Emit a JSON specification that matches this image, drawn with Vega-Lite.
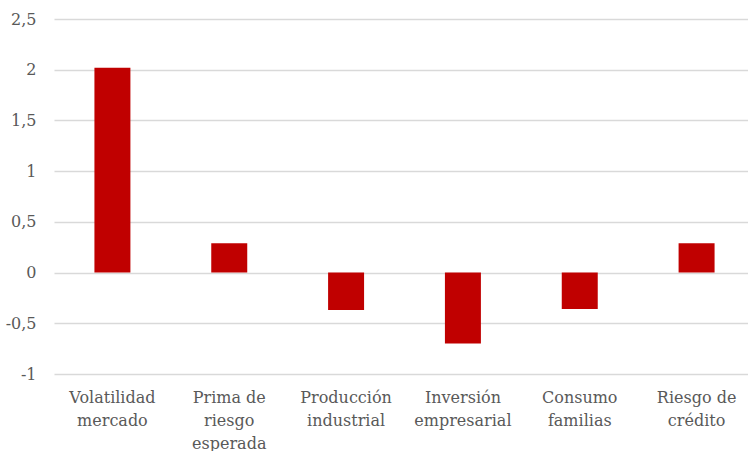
{
  "$schema": "https://vega.github.io/schema/vega-lite/v6.json",
  "width": 701,
  "height": 355,
  "autosize": {"type": "none"},
  "padding": {"left": 54, "top": 19, "right": 0, "bottom": 77},
  "background": "white",
  "data": {
    "values": [
      {"factor": "Volatilidad|mercado", "value": 2.02},
      {"factor": "Prima de|riesgo|esperada", "value": 0.29},
      {"factor": "Producción|industrial", "value": -0.37},
      {"factor": "Inversión|empresarial", "value": -0.70},
      {"factor": "Consumo|familias", "value": -0.36},
      {"factor": "Riesgo de|crédito", "value": 0.29}
    ]
  },
  "config": {
    "view": {"stroke": null},
    "font": "DejaVu Serif"
  },
  "mark": {"type": "bar", "color": "#C00000"},
  "encoding": {
    "x": {
      "field": "factor",
      "type": "nominal",
      "sort": null,
      "title": null,
      "scale": {"paddingInner": 0.692, "paddingOuter": 0.346},
      "axis": {
        "labelExpr": "split(datum.label, '|')",
        "labelAngle": 0,
        "labelFont": "DejaVu Serif",
        "labelFontSize": 16,
        "labelColor": "#595959",
        "labelLineHeight": 23,
        "labelPadding": 15,
        "labelBaseline": "top",
        "ticks": false,
        "domain": false,
        "grid": false
      }
    },
    "y": {
      "field": "value",
      "type": "quantitative",
      "title": null,
      "scale": {"domain": [-1, 2.5], "nice": false, "zero": false},
      "axis": {
        "values": [-1, -0.5, 0, 0.5, 1, 1.5, 2, 2.5],
        "labelExpr": "replace(toString(datum.value), '.', ',')",
        "labelFont": "DejaVu Serif",
        "labelFontSize": 16,
        "labelColor": "#595959",
        "labelPadding": 18,
        "ticks": false,
        "domain": false,
        "grid": true,
        "gridColor": "#d9d9d9",
        "gridWidth": 1.3
      }
    }
  }
}
